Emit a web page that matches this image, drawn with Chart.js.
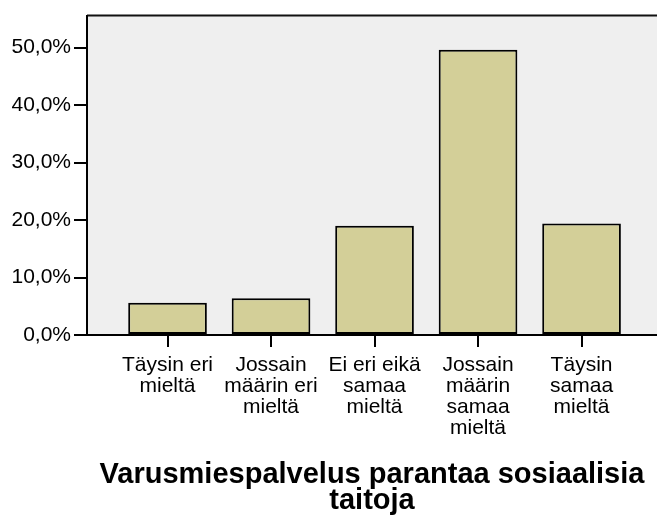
<!DOCTYPE html>
<html>
<head>
<meta charset="utf-8">
<script src="https://cdn.jsdelivr.net/npm/chart.js@4"></script>
<style>
  html, body { margin: 0; padding: 0; background: #fff; }
  #wrap { width: 657px; height: 516px; }
</style>
</head>
<body>
<div id="wrap"><canvas id="myChart"></canvas></div>
<script>
// answers to "Varusmiespalvelus parantaa sosiaalisia taitoja"
const categories = [
  ['Täysin eri', 'mieltä'],
  ['Jossain', 'määrin eri', 'mieltä'],
  ['Ei eri eikä', 'samaa', 'mieltä'],
  ['Jossain', 'määrin', 'samaa', 'mieltä'],
  ['Täysin', 'samaa', 'mieltä']
];
const percents = [5.6, 6.4, 19.0, 49.6, 19.4];
const yTicks = [0, 10, 20, 30, 40, 50];
const axisTitle = ['Varusmiespalvelus parantaa sosiaalisia', 'taitoja'];

// grey plot background + top frame line
const plotBg = {
  id: 'plotBg',
  beforeDraw(chart) {
    const a = chart.chartArea, c = chart.ctx;
    c.save();
    c.fillStyle = '#efefef';
    c.fillRect(a.left, a.top, a.right - a.left, a.bottom - a.top);
    c.strokeStyle = '#111';
    c.lineWidth = 2;
    c.beginPath();
    c.moveTo(a.left, a.top);
    c.lineTo(a.right, a.top);
    c.stroke();
    c.restore();
  }
};

const ctx = document.getElementById('myChart').getContext('2d');
const myChart = new Chart(ctx, {
  type: 'bar',
  data: {
    datasets: [{
      data: percents.map((v, i) => ({ x: i, y: v })),
      backgroundColor: '#d3cf98',
      borderColor: '#000',
      borderWidth: 2,
      borderSkipped: false,
      categoryPercentage: 1,
      barPercentage: 0.76
    }]
  },
  options: {
    responsive: true,
    maintainAspectRatio: false,
    animation: false,
    layout: { padding: { top: 14, right: 0, left: 0, bottom: 0 } },
    plugins: { legend: { display: false }, tooltip: { enabled: false } },
    scales: {
      x: {
        type: 'linear',
        offset: false,
        min: -0.778,
        max: 4.729,
        afterBuildTicks(scale) { scale.ticks = categories.map((c, i) => ({ value: i })); },
        afterFit(scale) { scale.height = 181; },
        border: { display: true, color: '#000', width: 2 },
        grid: { offset: false, drawOnChartArea: false, color: '#000', lineWidth: 2, tickLength: 12 },
        ticks: {
          color: '#000',
          font: { family: 'Arial, "Liberation Sans"', size: 21, lineHeight: 1.0 },
          padding: 8,
          maxRotation: 0,
          autoSkip: false,
          callback: (v) => categories[v]
        },
        title: {
          display: true,
          text: axisTitle,
          color: '#000',
          font: { family: 'Arial, "Liberation Sans"', size: 29, weight: 'bold', lineHeight: 0.9 },
          padding: { top: 0, bottom: 2 }
        }
      },
      y: {
        min: 0,
        max: 55.56,
        afterBuildTicks(scale) { scale.ticks = yTicks.map(v => ({ value: v })); },
        afterFit(scale) { scale.width = 87; },
        border: { display: true, color: '#000', width: 2 },
        grid: { drawOnChartArea: false, color: '#000', lineWidth: 2, tickLength: 13 },
        ticks: {
          color: '#000',
          font: { family: 'Arial, "Liberation Sans"', size: 21 },
          padding: 3,
          callback: (v) => v.toFixed(1).replace('.', ',') + '%'
        }
      }
    }
  },
  plugins: [plotBg]
});
</script>
</body>
</html>
